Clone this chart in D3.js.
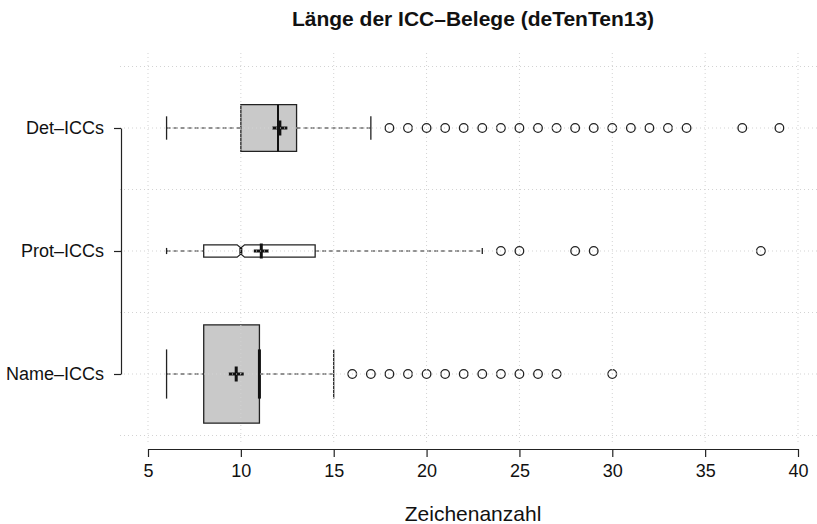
<!DOCTYPE html>
<html><head><meta charset="utf-8">
<script src="https://cdn.jsdelivr.net/npm/d3@7"></script>
<style>body{margin:0;background:#fff}svg{display:block;font-family:"Liberation Sans",Arial,sans-serif}</style>
</head><body><svg id="c" width="817" height="524"></svg>
<script>
const categories = ["Det–ICCs", "Prot–ICCs", "Name–ICCs"];
const whiskerLow = [6, 6, 6];
const q1 = [10, 8, 8];
const median = [12, 10, 11];
const q3 = [13, 14, 11];
const whiskerHigh = [17, 23, 15];
const means = [12.1, 11.1, 9.75];
const notchHalf = [0, 0.2, 0.1];
const relWidth = [0.38, 0.1, 0.8];
const outliers = [
  [18,19,20,21,22,23,24,25,26,27,28,29,30,31,32,33,34,37,39],
  [24,25,28,29,38],
  [16,17,18,19,20,21,22,23,24,25,26,27,30]
];
const xTicks = [5,10,15,20,25,30,35,40];
const title = "Länge der ICC–Belege (deTenTen13)";
const xTitle = "Zeichenanzahl";

const fills = ["#c9c9c9", "#ffffff", "#c9c9c9"];
const svg = d3.select("#c");
const x = d3.scaleLinear().domain([5, 40]).range([148, 798]);
const y = d3.scalePoint().domain(categories).range([128, 374]);
const yIdx = d3.scaleLinear().domain([0, 2]).range([128, 374]);
const step = yIdx(1) - yIdx(0);
const ink = "#222";

const g = svg.append("g");
categories.forEach((c, i) => {
  const cy = y(c);
  const hw = relWidth[i] * step / 2;
  const cap = hw / 2;
  const gg = g.append("g");
  // whiskers
  gg.append("line").attr("x1", x(whiskerLow[i])).attr("x2", x(q1[i])).attr("y1", cy).attr("y2", cy)
    .attr("stroke", ink).attr("stroke-dasharray", "4,3").attr("stroke-width", 1);
  gg.append("line").attr("x1", x(q3[i])).attr("x2", x(whiskerHigh[i])).attr("y1", cy).attr("y2", cy)
    .attr("stroke", ink).attr("stroke-dasharray", "4,3").attr("stroke-width", 1);
  [whiskerLow[i], whiskerHigh[i]].forEach(v => {
    gg.append("line").attr("x1", x(v)).attr("x2", x(v)).attr("y1", cy - cap).attr("y2", cy + cap)
      .attr("stroke", ink).attr("stroke-width", 1.3);
  });
  // box
  let pts;
  const n1 = median[i] - notchHalf[i], n2 = median[i] + notchHalf[i];
  if (notchHalf[i] > 0 && n1 > q1[i] && n2 < q3[i]) {
    pts = [[q1[i], -hw], [n1, -hw], [median[i], -hw / 2], [n2, -hw], [q3[i], -hw],
           [q3[i], hw], [n2, hw], [median[i], hw / 2], [n1, hw], [q1[i], hw]];
  } else {
    pts = [[q1[i], -hw], [q3[i], -hw], [q3[i], hw], [q1[i], hw]];
  }
  gg.append("polygon").attr("points", pts.map(p => [x(p[0]), cy + p[1]].join(",")).join(" "))
    .attr("fill", fills[i]).attr("stroke", ink).attr("stroke-width", 1.3);
  const mw = notchHalf[i] > 0 ? hw / 2 : hw;
  gg.append("line").attr("x1", x(median[i])).attr("x2", x(median[i])).attr("y1", cy - mw).attr("y2", cy + mw)
    .attr("stroke", "#111").attr("stroke-width", notchHalf[i] > 0 ? 3 : 2);
  // mean
  gg.append("path").attr("d", `M${x(means[i]) - 7.5},${cy}H${x(means[i]) + 7.5}M${x(means[i])},${cy - 7.5}V${cy + 7.5}`)
    .attr("stroke", "#111").attr("stroke-width", 3).attr("fill", "none");
  // outliers
  gg.selectAll("circle").data(outliers[i]).join("circle")
    .attr("cx", d => x(d)).attr("cy", cy).attr("r", 4.3)
    .attr("fill", "none").attr("stroke", ink).attr("stroke-width", 1.3);
});

// grid on top (as in the reference)
const grid = svg.append("g").attr("stroke", "#d3d3d3").attr("stroke-dasharray", "1,3").attr("stroke-width", 1);
xTicks.forEach(t => grid.append("line").attr("x1", x(t)).attr("x2", x(t)).attr("y1", 53).attr("y2", 445));
[-0.5, 0, 0.5, 1, 1.5, 2, 2.5].forEach(v => grid.append("line").attr("x1", 120).attr("x2", 817).attr("y1", yIdx(v)).attr("y2", yIdx(v)));

// axes
const xa = svg.append("g").attr("transform", "translate(0,449)")
  .call(d3.axisBottom(x).tickValues(xTicks).tickSize(8).tickSizeOuter(0).tickPadding(7));
xa.selectAll("text").attr("font-size", 18).attr("fill", "#111").attr("font-family", "Liberation Sans, Arial, sans-serif");
const ya = svg.append("g").attr("transform", "translate(121,0)")
  .call(d3.axisLeft(y).tickSize(7).tickSizeOuter(0).tickPadding(10));
ya.selectAll("text").attr("font-size", 18).attr("fill", "#111").attr("font-family", "Liberation Sans, Arial, sans-serif");
svg.selectAll(".domain, .tick line").attr("stroke", ink).attr("stroke-width", 1.2);

svg.append("text").attr("x", 473).attr("y", 26).attr("text-anchor", "middle")
  .attr("font-size", 21).attr("font-weight", "bold").attr("fill", "#111").text(title);
svg.append("text").attr("x", 473).attr("y", 521).attr("text-anchor", "middle")
  .attr("font-size", 21).attr("fill", "#111").text(xTitle);
</script></body></html>
